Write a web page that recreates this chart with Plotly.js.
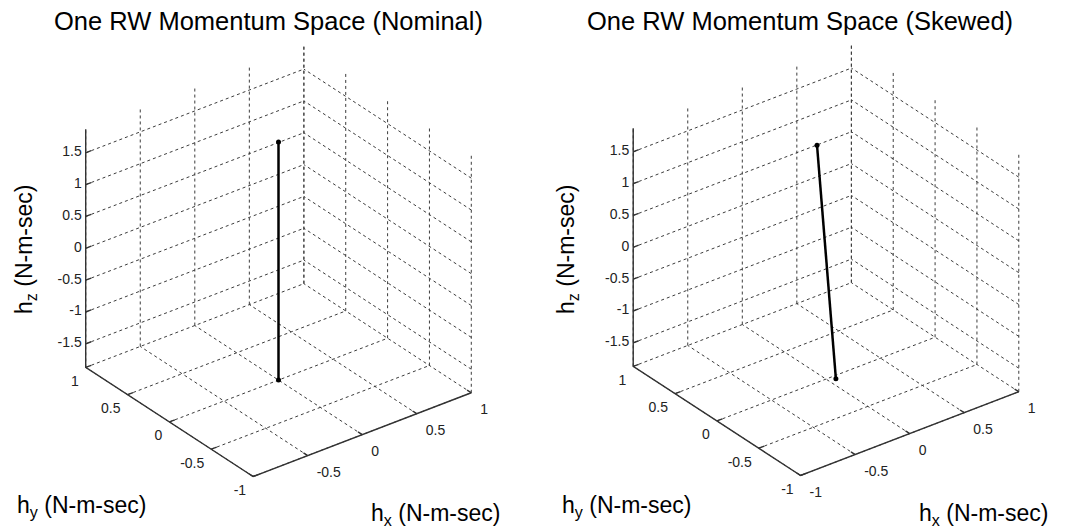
<!DOCTYPE html>
<html>
<head>
<meta charset="utf-8">
<script src="https://cdn.plot.ly/plotly-3.0.1.min.js"></script>
<style>html,body{margin:0;padding:0;background:#fff;}#chart{width:1068px;height:532px;}</style>
</head>
<body>
<div id="chart"></div>
<script>
// ---- data ----
const titles = ["One RW Momentum Space (Nominal)", "One RW Momentum Space (Skewed)"];
const xTicks = [-1, -0.5, 0, 0.5, 1];
const yTicks = [-1, -0.5, 0, 0.5, 1];
const zTicks = [-1.5, -1, -0.5, 0, 0.5, 1, 1.5];
const xTickLabelsNominal = ["", "-0.5", "0", "0.5", "1"];
const xTickLabelsSkewed = ["-1", "-0.5", "0", "0.5", "1"];
const yTickLabels = ["-1", "-0.5", "0", "0.5", "1"];
const zTickLabels = ["-1.5", "-1", "-0.5", "0", "0.5", "1", "1.5"];
const zLimits = [-1.87, 1.87];
// Nominal wheel axis: purely along z
const hxNominal = [0, 0];
const hyNominal = [0, 0];
const hzNominal = [-1.87, 1.87];
// Skewed wheel axis: tilted slightly
const hxSkewed = [0.06, -0.09];
const hySkewed = [-0.04, -0.01];
const hzSkewed = [-1.87, 1.87];

const FONT = "Liberation Sans, Arial, sans-serif";

// ---- MATLAB-like orthographic view (az = -37.5, el = 30), unit plot box ----
const AZ = -37.5 * Math.PI / 180, EL = 30 * Math.PI / 180;
const S = 275, W = 1068, H = 532;   // px per unit of the normalized plot box
const xmin = xTicks[0], xmax = xTicks[xTicks.length - 1];
const ymin = yTicks[0], ymax = yTicks[yTicks.length - 1];
const zmin = zLimits[0], zmax = zLimits[1];
function norm(p) {
  return [(p[0] - (xmin + xmax) / 2) / (xmax - xmin),
          (p[1] - (ymin + ymax) / 2) / (ymax - ymin),
          (p[2] - (zmin + zmax) / 2) / (zmax - zmin)];
}
function proj(p) {
  const n = norm(p);
  const u = Math.cos(AZ) * n[0] + Math.sin(AZ) * n[1];
  const v = -Math.sin(AZ) * Math.sin(EL) * n[0] + Math.cos(AZ) * Math.sin(EL) * n[1] + Math.cos(EL) * n[2];
  return [u, v];
}
function polyline(segs) {
  const xs = [], ys = [];
  segs.forEach(s => {
    s.forEach(p => { const q = proj(p); xs.push(q[0]); ys.push(q[1]); });
    xs.push(null); ys.push(null);
  });
  return {x: xs, y: ys};
}

function gridTrace(xa, ya) {
  const segs = [];
  xTicks.forEach(x => segs.push([[x, ymax, zmin], [x, ymax, zmax]]));
  zTicks.forEach(z => segs.push([[xmin, ymax, z], [xmax, ymax, z]]));
  yTicks.forEach(y => segs.push([[xmax, y, zmin], [xmax, y, zmax]]));
  zTicks.forEach(z => segs.push([[xmax, ymin, z], [xmax, ymax, z]]));
  xTicks.forEach(x => segs.push([[x, ymin, zmin], [x, ymax, zmin]]));
  yTicks.forEach(y => segs.push([[xmin, y, zmin], [xmax, y, zmin]]));
  const pl = polyline(segs);
  return {type: 'scatter', mode: 'lines', xaxis: xa, yaxis: ya, x: pl.x, y: pl.y,
    line: {color: '#3c3c3c', width: 1, dash: '3px,3px'}, hoverinfo: 'skip', showlegend: false};
}
function axisTrace(xa, ya) {
  const segs = [
    [[xmax, ymin, zmin], [xmin, ymin, zmin], [xmin, ymax, zmin], [xmin, ymax, zmax]]
  ];
  const tl = 0.025 * (xmax - xmin), tly = 0.025 * (ymax - ymin);
  xTicks.forEach(x => segs.push([[x, ymin, zmin], [x, ymin + tly, zmin]]));
  yTicks.forEach(y => segs.push([[xmin, y, zmin], [xmin + tl, y, zmin]]));
  zTicks.forEach(z => segs.push([[xmin, ymax, z], [xmin + tl, ymax, z]]));
  const pl = polyline(segs);
  return {type: 'scatter', mode: 'lines', xaxis: xa, yaxis: ya, x: pl.x, y: pl.y,
    line: {color: '#333', width: 1.4}, hoverinfo: 'skip', showlegend: false};
}
// tick labels, shifted by a screen offset in px (dx right, dy down)
function labelTrace(xa, ya, pts, labels, pos, dx, dy) {
  const xs = [], ys = [], ts = [];
  pts.forEach((p, i) => {
    if (!labels[i]) return;
    const q = proj(p);
    xs.push(q[0] + dx / S); ys.push(q[1] - dy / S); ts.push(labels[i]);
  });
  return {type: 'scatter', mode: 'text', xaxis: xa, yaxis: ya, x: xs, y: ys, text: ts,
    textposition: pos, textfont: {family: FONT, size: 14, color: '#222'},
    hoverinfo: 'skip', showlegend: false, cliponaxis: false};
}
function dataTrace(xa, ya, hx, hy, hz) {
  const xs = [], ys = [];
  hx.forEach((_, i) => { const q = proj([hx[i], hy[i], hz[i]]); xs.push(q[0]); ys.push(q[1]); });
  return {type: 'scatter', mode: 'lines+markers', xaxis: xa, yaxis: ya, x: xs, y: ys,
    line: {color: '#000', width: 2.5}, marker: {color: '#000', size: 5},
    showlegend: false, cliponaxis: false};
}
function panel(xa, ya, hx, hy, hz, xLabels) {
  return [
    gridTrace(xa, ya),
    axisTrace(xa, ya),
    labelTrace(xa, ya, zTicks.map(z => [xmin, ymax, z]), zTickLabels, 'middle left', -4, 0),
    labelTrace(xa, ya, yTicks.map(y => [xmin, y, zmin]), yTickLabels, 'middle left', -7, 15),
    labelTrace(xa, ya, xTicks.map(x => [x, ymin, zmin]), xLabels, 'middle right', 9, 18),
    dataTrace(xa, ya, hx, hy, hz)
  ];
}

const traces = [].concat(
  panel('x', 'y', hxNominal, hyNominal, hzNominal, xTickLabelsNominal),
  panel('x2', 'y2', hxSkewed, hySkewed, hzSkewed, xTickLabelsSkewed)
);

function xr(cx, d0, d1) { return [(d0 * W - cx) / S, (d1 * W - cx) / S]; }
function yr(cy) { return [(cy - H) / S, cy / S]; }
const hidden = {visible: false, fixedrange: true};

function ann(text, x, y, size, opts) {
  return Object.assign({text: text, x: x / W, y: 1 - y / H, xref: 'paper', yref: 'paper', showarrow: false,
    xanchor: 'center', yanchor: 'middle',
    font: {family: FONT, size: size, color: '#000'}}, opts || {});
}
const layout = {
  width: W, height: H, margin: {l: 0, r: 0, t: 0, b: 0},
  paper_bgcolor: '#fff', plot_bgcolor: 'rgba(0,0,0,0)', showlegend: false,
  xaxis: Object.assign({domain: [0, 0.5], range: xr(278.5, 0, 0.5)}, hidden),
  yaxis: Object.assign({domain: [0, 1], range: yr(261)}, hidden),
  xaxis2: Object.assign({domain: [0.5, 1], range: xr(826, 0.5, 1)}, hidden),
  yaxis2: Object.assign({domain: [0, 1], range: yr(260)}, hidden),
  annotations: [
    ann(titles[0], 268, 21, 25.5),
    ann(titles[1], 800, 21, 25.5),
    ann('h<sub>z</sub> (N-m-sec)', 25, 250, 23, {textangle: -90}),
    ann('h<sub>z</sub> (N-m-sec)', 567, 250, 23, {textangle: -90}),
    ann('h<sub>y</sub> (N-m-sec)', 82, 506, 23),
    ann('h<sub>x</sub> (N-m-sec)', 435, 514, 23),
    ann('h<sub>y</sub> (N-m-sec)', 626, 506, 23),
    ann('h<sub>x</sub> (N-m-sec)', 983, 514, 23)
  ]
};
Plotly.newPlot('chart', traces, layout, {displayModeBar: false, staticPlot: true});
</script>
</body>
</html>
